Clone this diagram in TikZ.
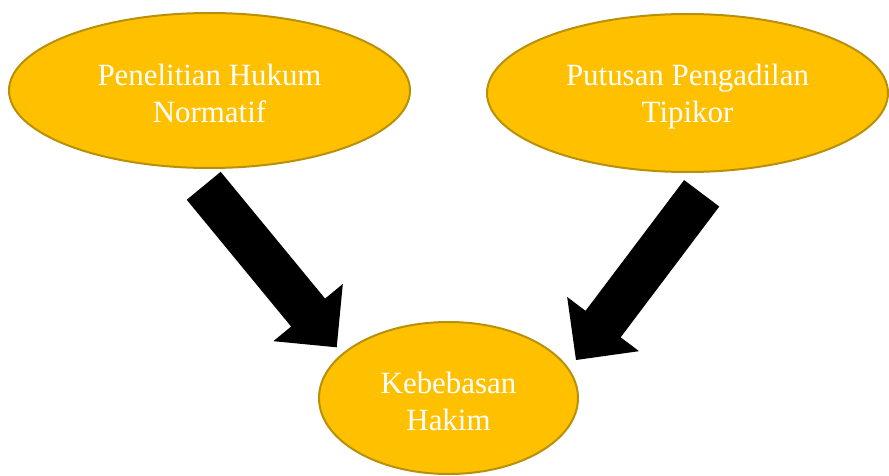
\documentclass[tikz,border=0pt]{standalone}
\usepackage{fontspec}
\setmainfont{Liberation Serif}
\usetikzlibrary{shapes.geometric,calc}

\definecolor{goldfill}{HTML}{FFC000}
\definecolor{golddraw}{HTML}{B8900A}

\tikzset{
  topic/.style={ellipse, fill=goldfill, draw=golddraw, line width=2pt,
    inner sep=0pt},
  topictext/.style={align=center, text=white, inner sep=0pt,
    font=\fontsize{30.9}{37}\selectfont},
  blockarrow/.style={fill=black},
}

% thick block arrow from tail #1 to tip #2
\newcommand\blockarrowpath[2]{%
  \coordinate (hb) at ($(#2)!45pt!(#1)$);
  \fill[blockarrow]
    ($(#1)!22pt!90:(#2)$) -- ($(hb)!22pt!-90:(#1)$) -- ($(hb)!45pt!-90:(#1)$)
    -- (#2) -- ($(hb)!45pt!90:(#1)$) -- ($(hb)!22pt!90:(#1)$)
    -- ($(#1)!22pt!-90:(#2)$) -- cycle;
}

\begin{document}
\begin{tikzpicture}[x=1pt,y=1pt]
  \useasboundingbox (0,0) rectangle (889,475);
  \begin{scope}
    \clip (0,0) rectangle (889,475);

    \node[topic, minimum width=401pt, minimum height=155pt] (pen) at (209.5,384.5) {};
    \node[topic, minimum width=401pt, minimum height=158pt] (put) at (687.5,382) {};
    \node[topic, minimum width=259pt, minimum height=152pt] (keb) at (448.5,77) {};

    \node[topictext] (pentext) at ([yshift=-3pt]pen.center) {Penelitian Hukum\\Normatif};
    \node[topictext] (puttext) at ([yshift=-4pt]put.center) {Putusan Pengadilan\\Tipikor};
    \node[topictext] (kebtext) at ([yshift=-3.5pt]keb.center) {Kebebasan\\Hakim};

    \coordinate (penout) at (203.7,289.2);
    \coordinate (kebinL) at (336.7,127.7);
    \coordinate (putout) at (701.7,281.7);
    \coordinate (kebinR) at (576,115);

    \blockarrowpath{penout}{kebinL}
    \blockarrowpath{putout}{kebinR}
  \end{scope}
\end{tikzpicture}
\end{document}
